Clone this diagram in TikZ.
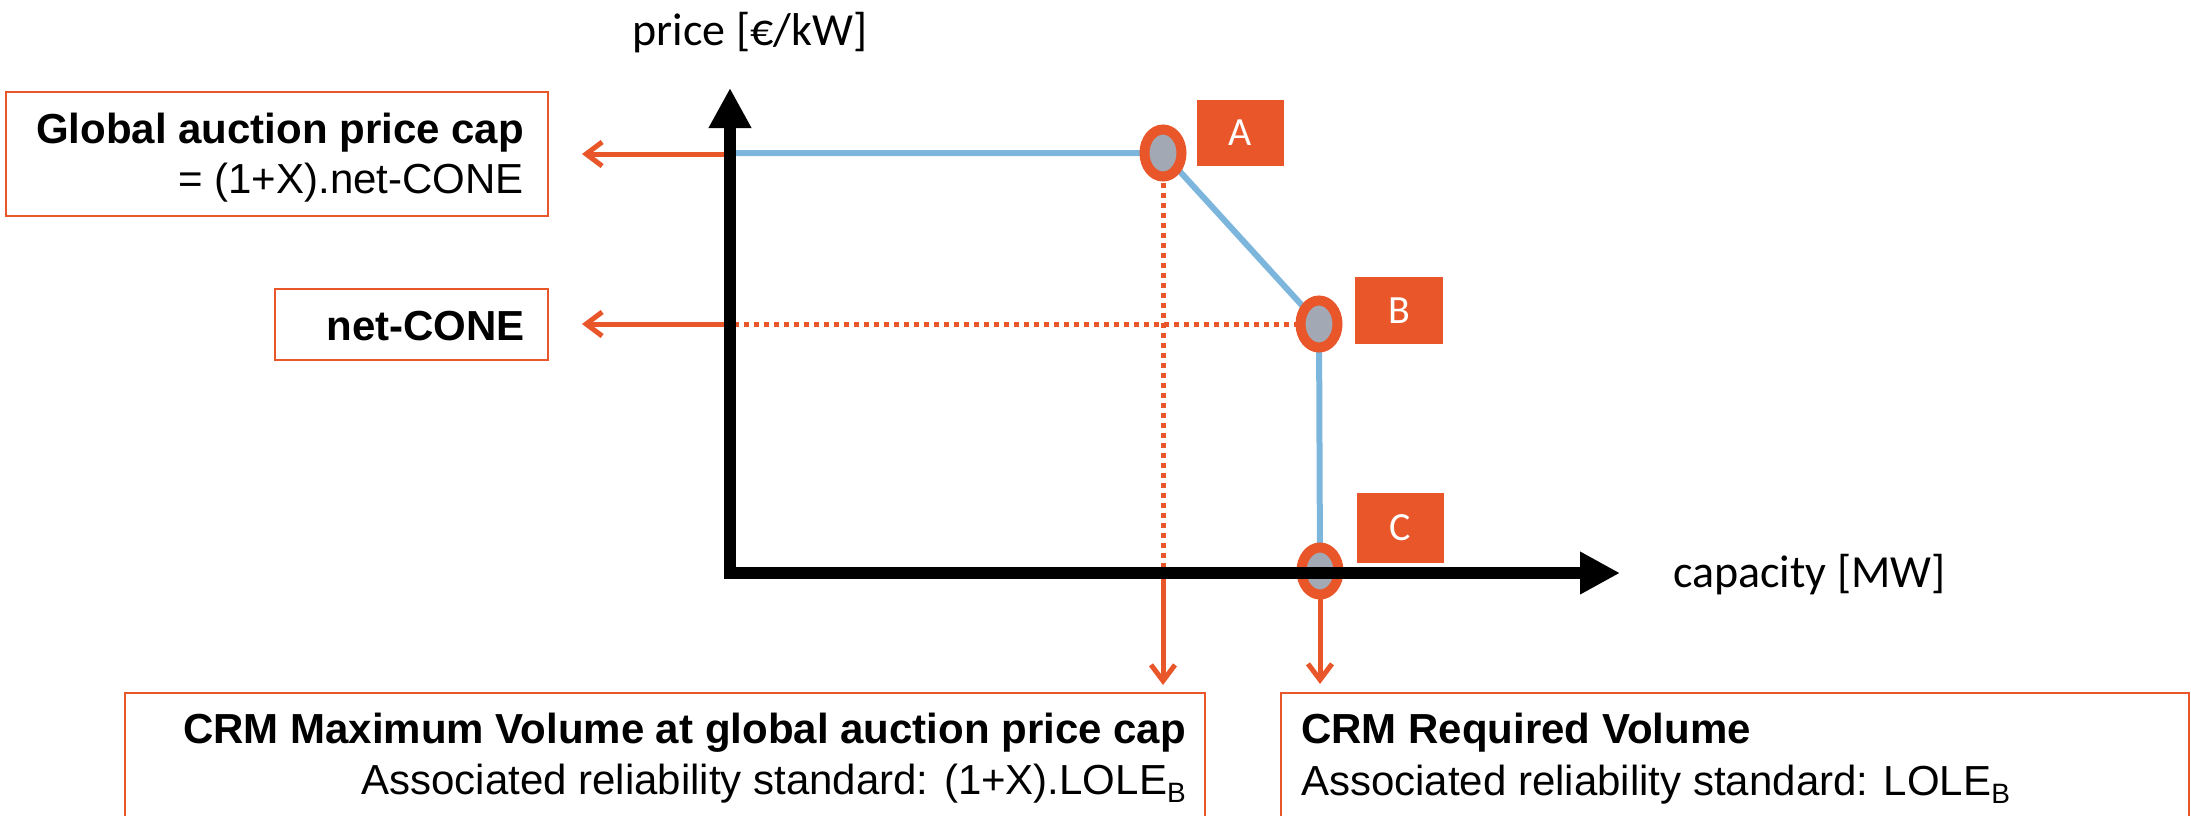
\documentclass[tikz,border=0pt]{standalone}
\usepackage{fontspec}
\setmainfont{Liberation Sans}
\newfontfamily\calib{Carlito}
\usetikzlibrary{arrows.meta,shapes.geometric}
\definecolor{org}{HTML}{E8562A}
\definecolor{blu}{HTML}{7DB6DD}
\definecolor{gry}{HTML}{A2A9B4}
\newcommand\bigf{\fontsize{42pt}{50pt}\selectfont}
\newcommand\subB{\raisebox{-8pt}{\fontsize{28pt}{28pt}\selectfont B}}
\tikzset{
  obox/.style={draw=org, line width=2.5pt, rectangle, inner sep=0pt, outer sep=0pt},
  txt/.style={inner sep=0pt, font=\bigf},
  axlab/.style={inner sep=0pt, font=\calib\fontsize{46pt}{52pt}\selectfont},
  oarr/.style={draw=org, line width=5pt, -{Straight Barb[length=16pt,width=24pt]}, shorten >=34pt},
  odot/.style={draw=org, line width=5pt, dash pattern=on 5pt off 5pt},
  oline/.style={draw=org, line width=5pt},
  blue/.style={draw=blu, line width=6pt},
  pt/.style={ellipse, draw=org, line width=10pt, fill=gry, inner sep=0pt, minimum width=37pt, minimum height=47pt},
  tag/.style={rectangle, fill=org, text=white, inner sep=0pt, font=\calib\fontsize{40pt}{40pt}\selectfont},
  axis/.style={draw=black, line width=12.5pt, line join=miter, {Triangle[length=40pt,width=40pt]}-{Triangle[length=40pt,width=40pt]}}
}
\begin{document}
\begin{tikzpicture}[x=1pt,y=-1pt]
\useasboundingbox (0,0) rectangle (2191,815);
\begin{scope}
\clip (0,0) rectangle (2191,815);
% coordinates
\coordinate (O) at (730,573);
\coordinate (ytip) at (730,88);
\coordinate (xtip) at (1620,573);
% boxes
\node[obox, minimum width=542pt, minimum height=124pt] (gbox) at (277,154) {};
\node[obox, minimum width=273pt, minimum height=71pt] (netbox) at (411.5,324.5) {};
\node[obox, minimum width=1080pt, minimum height=147pt] (maxbox) at (665,766.5) {};
\node[obox, minimum width=908pt, minimum height=147pt] (reqbox) at (1735,766.5) {};
% texts in boxes
\node[txt, anchor=base east] (g1) at (524,143) {\bfseries Global auction price cap};
\node[txt, anchor=base east] (g2) at (524,193) {= (1+X).net-CONE};
\node[txt, anchor=base east] (n1) at (525,340) {\bfseries net-CONE};
\node[txt, anchor=base east] (m1) at (1186,743) {\bfseries CRM Maximum Volume at global auction price cap};
\node[txt, anchor=base east] (m2) at (1186,794) {Associated reliability standard: (1+X).LOLE\subB};
\node[txt, anchor=base west] (r1) at (1301,743) {\bfseries CRM Required Volume};
\node[txt, anchor=base west] (r2) at (1301,795) {Associated reliability standard: LOLE\subB};
% points (placed first for reference)
\coordinate (Ac) at (1163,153);
\coordinate (Bc) at (1319,324);
\coordinate (Cc) at (1320,571);
% blue curve
\draw[blue] (O |- Ac) -- (Ac) -- (Bc) -- (Cc);
% dotted guides
\draw[odot] (Ac) -- (Ac |- O);
\draw[odot] (Bc) -- (Bc -| O);
% orange arrows
\draw[oarr] (O |- gbox.east) -- (gbox.east);
\draw[oarr] (O |- Bc) -- (netbox.east |- Bc);
\draw[oline, -{Straight Barb[length=16pt,width=24pt]}, shorten >=8pt] (Ac |- O) -- (Ac |- maxbox.north);
\draw[oline, -{Straight Barb[length=16pt,width=24pt]}, shorten >=9pt] (Cc) -- (Cc |- reqbox.north);
% point markers
\node[pt] (A) at (Ac) {};
\node[pt] (B) at (Bc) {};
\node[pt] (C) at (Cc) {};
% axes
\draw[axis] (ytip) -- (O) -- (xtip);
% axis labels
\node[axlab, anchor=base] (plab) at (750,45) {price [€/kW]};
\node[axlab, anchor=base west] (clab) at (1673,587) {capacity [MW]};
% tags
\node[tag, minimum width=87pt, minimum height=66pt] (tA) at (1240,133) {A};
\node[tag, minimum width=88pt, minimum height=67pt] (tB) at (1399,310.5) {B};
\node[tag, minimum width=87pt, minimum height=70pt] (tC) at (1400.5,528) {C};
\end{scope}
\end{tikzpicture}
\end{document}
